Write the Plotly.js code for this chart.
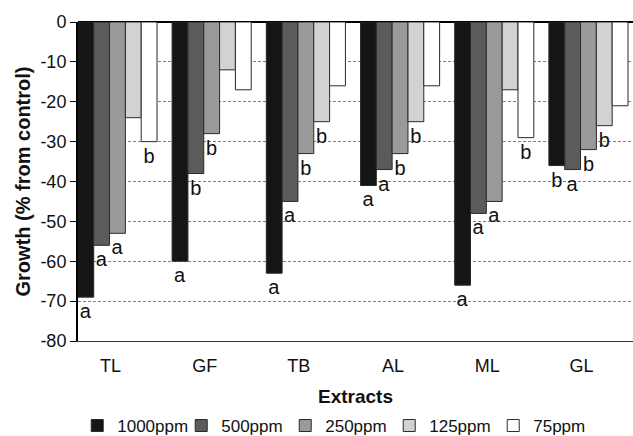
<!DOCTYPE html>
<html>
<head>
<meta charset="utf-8">
<script src="https://cdn.plot.ly/plotly-3.0.1.min.js"></script>
<style>html,body{margin:0;padding:0;background:#fff;}#chart{width:633px;height:436px;}</style>
</head>
<body>
<div id="chart"></div>
<script>
const categories = ["TL", "GF", "TB", "AL", "ML", "GL"];
const seriesNames = ["1000ppm", "500ppm", "250ppm", "125ppm", "75ppm"];
const v1000 = [-69, -60, -63, -41, -66, -36];
const v500  = [-56, -38, -45, -37, -48, -37];
const v250  = [-53, -28, -33, -33, -45, -32];
const v125  = [-24, -12, -25, -25, -17, -26];
const v75   = [-30, -17, -16, -16, -29, -21];
const l1000 = ["a", "a", "a", "a", "a", "b"];
const l500  = ["a", "b", "a", "a", "a", "a"];
const l250  = ["a", "b", "b", "b", "a", "b"];
const l125  = ["", "", "b", "b", "", "b"];
const l75   = ["b", "", "", "", "b", ""];
const yTicks = [0, -10, -20, -30, -40, -50, -60, -70, -80];

const values = [v1000, v500, v250, v125, v75];
const letters = [l1000, l500, l250, l125, l75];
const colors = ["#151515", "#5b5b5b", "#9a9a9a", "#d2d2d2", "#ffffff"];
const FONT = "Liberation Sans, Arial, Helvetica, sans-serif";

const traces = values.map((v, i) => ({
  type: "bar",
  name: seriesNames[i],
  x: categories,
  y: v,
  text: letters[i],
  textposition: "outside",
  constraintext: "none",
  cliponaxis: false,
  textfont: {family: FONT, size: 20, color: "#111"},
  marker: {color: colors[i], line: {color: "#2a2a2a", width: 1}},
  hoverinfo: "skip"
}));

const layout = {
  width: 633, height: 436,
  margin: {l: 78, r: 0, t: 22, b: 95, autoexpand: false},
  paper_bgcolor: "#fff", plot_bgcolor: "#fff",
  font: {family: FONT, color: "#111", size: 17},
  barmode: "group",
  bargap: 0.16,
  bargroupgap: 0,
  showlegend: true,
  legend: {
    orientation: "h", xref: "container", yref: "container",
    x: 0.122, xanchor: "left", y: 0.023, yanchor: "middle",
    font: {family: FONT, size: 17, color: "#111"},
    itemwidth: 30, entrywidth: 59, traceorder: "normal", tracegroupgap: 0
  },
  xaxis: {
    type: "category",
    range: [-0.419, 5.473],
    showgrid: false, zeroline: false,
    showline: true, linecolor: "#333", linewidth: 1,
    ticks: "", ticklabelshift: -7, ticklabelstandoff: 8,
    tickfont: {family: FONT, size: 18, color: "#111"},
    title: {text: "<b>Extracts</b>", font: {family: FONT, size: 19, color: "#111"}, standoff: 15}
  },
  yaxis: {
    range: [-80, 0],
    tickvals: yTicks,
    ticktext: yTicks.map(String),
    showgrid: true, gridcolor: "#808080", gridwidth: 1, griddash: "3px,2px",
    zeroline: true, zerolinecolor: "#000", zerolinewidth: 2,
    showline: true, linecolor: "#000", linewidth: 2,
    ticks: "outside", ticklen: 6, tickcolor: "#000", tickwidth: 1,
    tickfont: {family: FONT, size: 18, color: "#111"},
    title: {text: "<b>Growth (% from control)</b>", font: {family: FONT, size: 20, color: "#111"}, standoff: 4}
  }
};

Plotly.newPlot("chart", traces, layout, {staticPlot: true, displayModeBar: false});
</script>
</body>
</html>
